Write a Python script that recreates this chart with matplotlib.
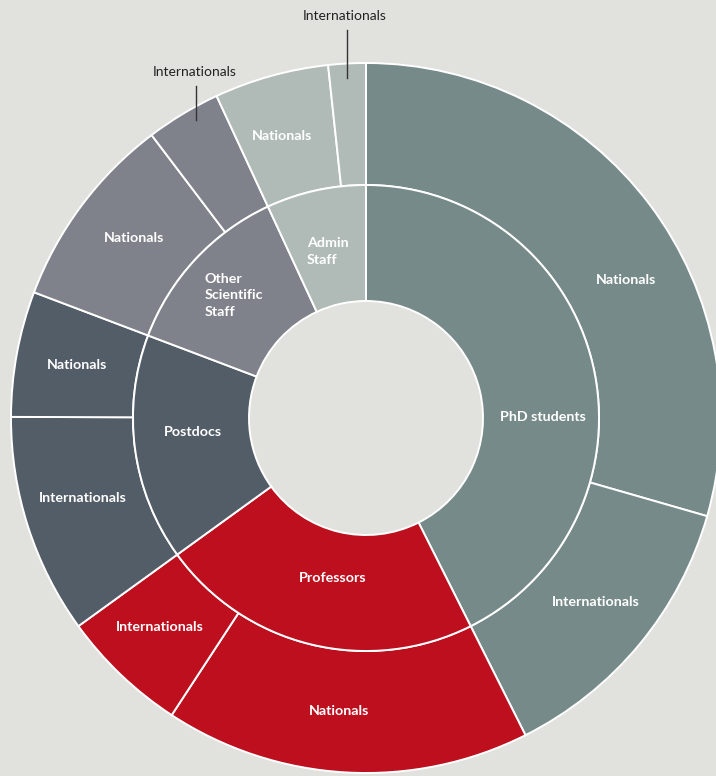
import numpy as np
import matplotlib.pyplot as plt

# staff groups, inner ring (clockwise from 12 o'clock)
groups = ["PhD students", "Professors", "Postdocs", "Other\nScientific\nStaff", "Admin\nStaff"]
group_colors = ["#768b89", "#bd0f1e", "#535d67", "#7f828b", "#b0bbb8"]

# outer ring: nationals / internationals per group (% of all staff)
sub_labels = ["Nationals", "Internationals",
              "Nationals", "Internationals",
              "Internationals", "Nationals",
              "Nationals", "Internationals",
              "Nationals", "Internationals"]
sub_values = [29.4, 13.1,
              16.6, 5.8,
              10.0, 5.7,
              8.9, 3.4,
              5.2, 1.7]
sub_group = [0, 0, 1, 1, 2, 2, 3, 3, 4, 4]

group_values = [sum(v for v, g in zip(sub_values, sub_group) if g == i)
                for i in range(len(groups))]

bg = "#e1e1dd"
cx, cy = 366, 776 - 418
r_out, r_mid, r_in = 355, 233, 117

fig = plt.figure(figsize=(7.16, 7.76), dpi=100, facecolor=bg)
ax = fig.add_axes([0, 0, 1, 1])
ax.set_facecolor(bg)

wp = dict(edgecolor="white", linewidth=1.4)
outer, _ = ax.pie(sub_values, radius=r_out, center=(cx, cy), startangle=90,
                  counterclock=False, colors=[group_colors[g] for g in sub_group],
                  wedgeprops=dict(width=r_out - r_mid, **wp))
inner, _ = ax.pie(group_values, radius=r_mid, center=(cx, cy), startangle=90,
                  counterclock=False, colors=group_colors,
                  wedgeprops=dict(width=r_mid - r_in, **wp))
ax.set_xlim(0, 716)
ax.set_ylim(0, 776)
ax.set_aspect("equal")
ax.axis("off")

lbl = dict(color="white", fontsize=10.3, fontweight="bold", family="Lato",
           ha="center", va="center", linespacing=1.45)

# PhD labels are nudged towards the visible part of the ring
inner_shift = [-13, 2, -3, 0, 2]
inner_r = [177, 163, 174, 180, 172]
inner_dx = [0, 0, 0, -30, -16]
for w, name, sh, r, dx in zip(inner, groups, inner_shift, inner_r, inner_dx):
    a = np.deg2rad((w.theta1 + w.theta2) / 2 + sh)
    ha = "left" if "\n" in name else "center"
    ax.text(cx + r * np.cos(a) + dx, cy + r * np.sin(a), name, **{**lbl, "ha": ha})

outer_shift = [-9, 1, -2, -1, -2, 0, -1, 0, 1, 0]
for i, (w, name, sh) in enumerate(zip(outer, sub_labels, outer_shift)):
    mid = (w.theta1 + w.theta2) / 2
    if w.theta2 - w.theta1 < 15:
        # small wedges get a callout line above the ring
        a = np.deg2rad(mid + (-2.5 if i == 7 else 0))
        x = cx + r_out * np.cos(a)
        y_edge = cy + np.sqrt(r_out ** 2 - (x - cx) ** 2)
        top = 690 if i == 7 else 746
        ax.plot([x, x], [y_edge - 14, top], color="#333333", lw=1)
        ax.text(x - 2, top + 14, name, color="#222222", fontsize=10,
                family="Lato", ha="center", va="center")
        continue
    a = np.deg2rad(mid + sh)
    r = (r_mid + r_out) / 2
    ax.text(cx + r * np.cos(a), cy + r * np.sin(a), name, **lbl)

fig.savefig("out.png", dpi=100, facecolor=bg)
